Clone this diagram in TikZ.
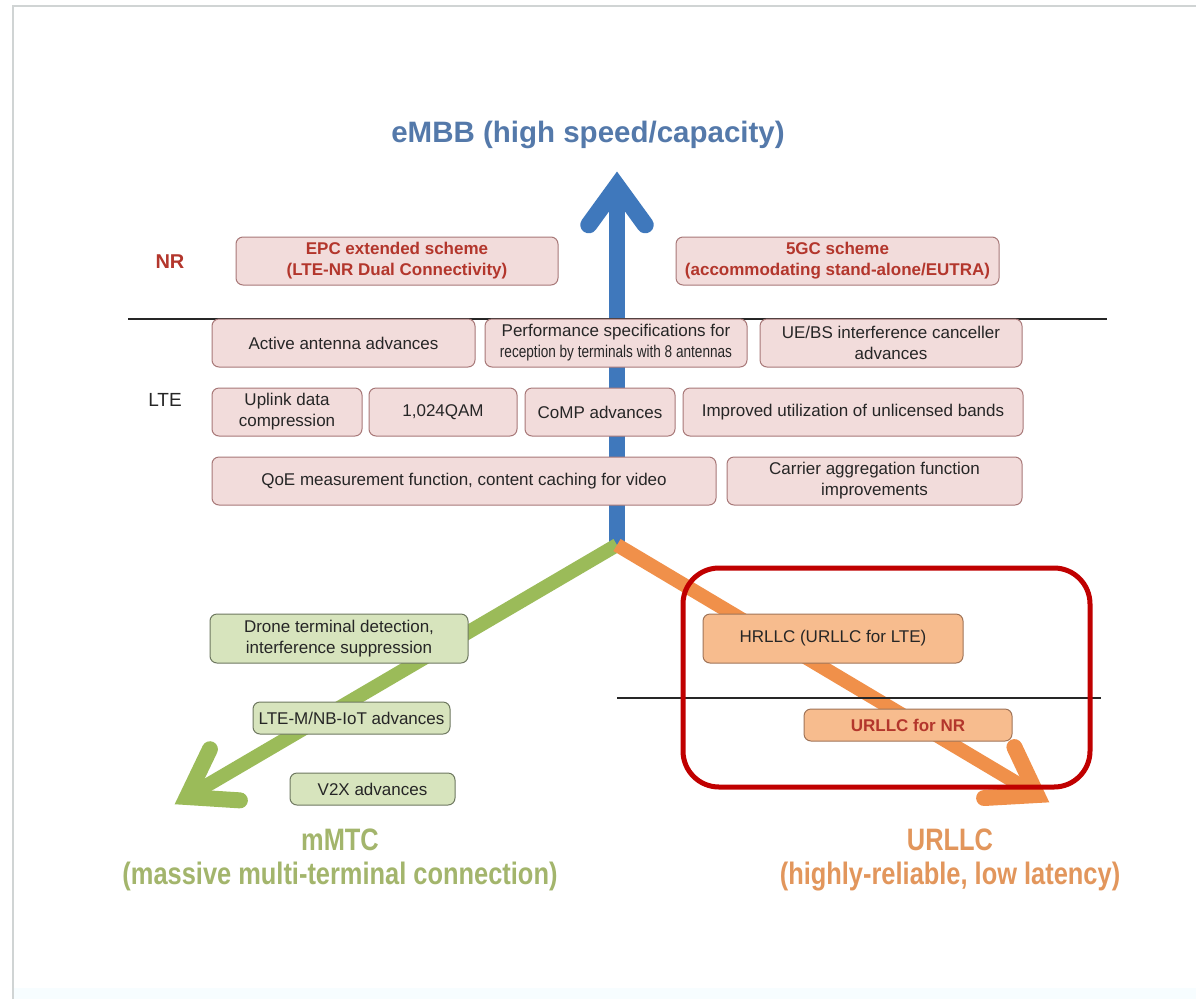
\documentclass[tikz,border=0pt]{standalone}
\usepackage{fontspec}
\setmainfont{Liberation Sans}
\newfontfamily\narrowfont[FakeStretch=0.82]{Liberation Sans}
\newfontfamily\condfont[FakeStretch=0.8]{Liberation Sans}
\usetikzlibrary{calc}
\definecolor{framegray}{HTML}{D0D4D4}
\definecolor{bluearrow}{HTML}{3F78BC}
\definecolor{greenarrow}{HTML}{9BBB59}
\definecolor{orangearrow}{HTML}{F0904A}
\definecolor{pinkfill}{HTML}{F2DCDB}
\definecolor{pinkedge}{HTML}{A87878}
\definecolor{greenfill}{HTML}{D7E4BD}
\definecolor{greenedge}{HTML}{6E7860}
\definecolor{orangefill}{HTML}{F7BC8E}
\definecolor{orangeedge}{HTML}{A07458}
\definecolor{darkred}{HTML}{B3362C}
\definecolor{titleblue}{HTML}{5479AA}
\definecolor{labelgreen}{HTML}{A3B56C}
\definecolor{labelorange}{HTML}{E2965C}
\definecolor{textdark}{HTML}{262626}
\definecolor{redframe}{HTML}{C00000}
\begin{document}
\begin{tikzpicture}[x=1pt,y=-1pt,
  anybox/.style={rounded corners=7pt, line width=1pt, inner sep=0pt, align=center,
    font=\fontsize{17}{21}\selectfont, text=textdark},
  pinkbox/.style={anybox, draw=pinkedge, fill=pinkfill},
  greenbox/.style={anybox, draw=greenedge, fill=greenfill},
  orangebox/.style={anybox, draw=orangeedge, fill=orangefill},
  nrtext/.style={font=\fontsize{17}{21}\selectfont\bfseries, text=darkred},
  shaft/.style={line width=#1, line cap=butt},
  chevron/.style={line width=#1, line join=miter, line cap=round},
  divider/.style={line width=1.3pt, draw=black!85},
  bigtitle/.style={font=\fontsize{29.5}{33}\selectfont\bfseries, text=titleblue},
  axislabel/.style={font=\narrowfont\fontsize{31}{34}\selectfont\bfseries, align=center}
]
\useasboundingbox (0,0) rectangle (1196,999);
% frame
\fill[fill=white] (0,0) rectangle (1196,999);
\fill[fill=cyan!3] (14,988) rectangle (1196,999);
\draw[framegray, line width=2.5pt] (13,999) -- (13,6) -- (1196,6);

% axis arrows
\coordinate (j) at (617,545);
\coordinate (vb) at (617,186);
\coordinate (vg) at (187,797);
\coordinate (vo) at (1037,795);
\draw[bluearrow, shaft=16pt] (j) -- (vb);
\draw[bluearrow, chevron=17pt] ($(vb)!48pt!36:(j)$) -- (vb) -- ($(vb)!48pt!-36:(j)$);
\draw[greenarrow, shaft=14pt] (j) -- (vg);
\draw[greenarrow, chevron=16pt] ($(vg)!53pt!34:(j)$) -- (vg) -- ($(vg)!53pt!-34:(j)$);
\draw[orangearrow, shaft=14pt] (j) -- (vo);
\draw[orangearrow, chevron=16pt] ($(vo)!53pt!34:(j)$) -- (vo) -- ($(vo)!53pt!-34:(j)$);

% dividers
\coordinate (d1a) at (128,319);
\coordinate (d1b) at (1107,319);
\coordinate (d2a) at (617,698);
\coordinate (d2b) at (1101,698);
\draw[divider] (d1a) -- (d1b);
\draw[divider] (d2a) -- (d2b);

% titles and labels
\node[bigtitle] (embb) at (588,135) {eMBB (high speed/capacity)};
\node[font=\fontsize{20}{22}\selectfont\bfseries, text=darkred] (nr) at (170,262) {NR};
\node[font=\fontsize{19}{22}\selectfont, text=textdark] (lte) at (165,400) {LTE};

% NR boxes
\node[pinkbox, nrtext, minimum width=322, minimum height=48] (epc) at (397,261)
  {EPC extended scheme\\(LTE-NR Dual Connectivity)};
\node[pinkbox, nrtext, minimum width=323, minimum height=48] (fivegc) at (837.5,261)
  {5GC scheme\\(accommodating stand-alone/EUTRA)};

% LTE row 1
\node[pinkbox, minimum width=263, minimum height=48] (aaa) at (343.5,343) {Active antenna advances};
\node[pinkbox, minimum width=262, minimum height=48] (perf) at (616,343)
  {Performance specifications for\\{\condfont reception by terminals with 8 antennas}};
\node[pinkbox, minimum width=262, minimum height=48] (uebs) at (891,343)
  {UE/BS interference canceller\\advances};
% LTE row 2
\node[pinkbox, minimum width=150, minimum height=48] (uplink) at (287,412) {Uplink data\\compression};
\node[pinkbox, minimum width=148, minimum height=48] (qam) at (443,412) {1,024QAM};
\node[pinkbox, minimum width=150, minimum height=48] (comp) at (600,412) {CoMP advances};
\node[pinkbox, minimum width=340, minimum height=48] (unlic) at (853,412) {Improved utilization of unlicensed bands};
% LTE row 3
\node[pinkbox, minimum width=504, minimum height=48] (qoe) at (464,481) {QoE measurement function, content caching for video};
\node[pinkbox, minimum width=295, minimum height=48] (carrier) at (874.5,481) {Carrier aggregation function\\improvements};

% mMTC boxes
\node[greenbox, minimum width=258, minimum height=49] (drone) at (339,638.5)
  {Drone terminal detection,\\interference suppression};
\node[greenbox, minimum width=197, minimum height=32] (ltem) at (351.5,718) {LTE-M/NB-IoT advances};
\node[greenbox, minimum width=165, minimum height=32] (v2x) at (372.5,789) {V2X advances};

% URLLC boxes
\node[orangebox, minimum width=260, minimum height=49] (hrllc) at (833,638.5) {HRLLC (URLLC for LTE)};
\node[orangebox, nrtext, minimum width=208, minimum height=32] (urllcnr) at (908,725) {URLLC for NR};

% highlight frame
\draw[redframe, line width=5pt, rounded corners=36pt] (683,568) rectangle (1090,787);

% axis labels
\node[axislabel, text=labelgreen] (mmtc) at (340,860) {mMTC\\(massive multi-terminal connection)};
\node[axislabel, text=labelorange] (urllc) at (950,860) {URLLC\\(highly-reliable, low latency)};
\end{tikzpicture}
\end{document}
